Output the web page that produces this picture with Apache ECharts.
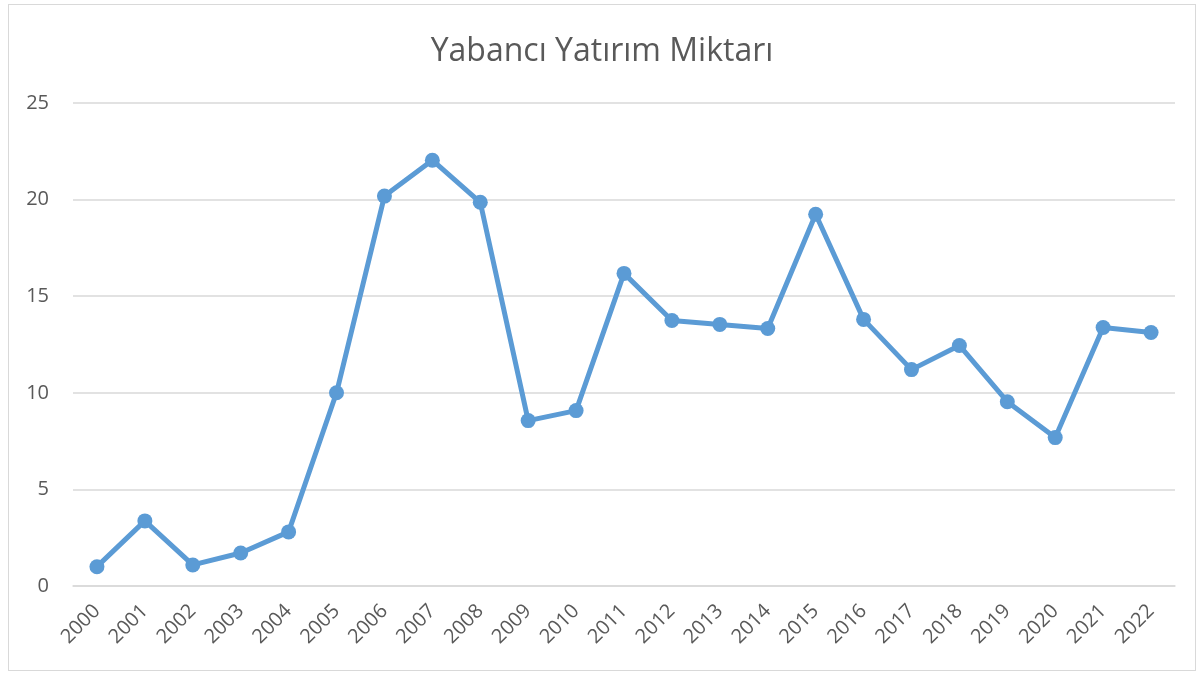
<!DOCTYPE html>
<html lang="tr">
<head>
<meta charset="UTF-8">
<title>Yabancı Yatırım Miktarı</title>
<script src="https://cdn.jsdelivr.net/npm/echarts@6/dist/echarts.min.js"></script>
<style>
  body { margin: 0; background: #fff; }
  #chart { position: absolute; left: 8px; top: 4px; width: 1186px; height: 665px; border: 1px solid #d9d9d9; }
</style>
</head>
<body>
<div id="chart"></div>
<script type="text/javascript">
    var years = ["2000","2001","2002","2003","2004","2005","2006","2007","2008","2009","2010","2011",
                 "2012","2013","2014","2015","2016","2017","2018","2019","2020","2021","2022"];
    var amounts = [1.0, 3.37, 1.09, 1.71, 2.8, 10.0, 20.18, 22.04, 19.86, 8.56, 9.08, 16.18,
                   13.74, 13.54, 13.33, 19.24, 13.8, 11.2, 12.45, 9.54, 7.68, 13.38, 13.12];

    var myChart = echarts.init(document.getElementById('chart'));
    var txt = '#595959';
    myChart.setOption({
        backgroundColor: '#fff',
        title: {
            text: 'Yabancı Yatırım Miktarı',
            left: 'center',
            top: 26,
            textStyle: { color: txt, fontSize: 32, fontWeight: 'normal', fontFamily: 'Open Sans' }
        },
        grid: { left: 64, right: 20, top: 98, bottom: 84 },
        xAxis: {
            type: 'category',
            data: years,
            boundaryGap: true,
            axisLine: { lineStyle: { color: '#d9d9d9', width: 1.5 } },
            axisTick: { show: false },
            axisLabel: { rotate: 45, color: txt, fontSize: 20, fontFamily: 'Open Sans', margin: 22, interval: 0 }
        },
        yAxis: {
            type: 'value',
            min: 0, max: 25, interval: 5,
            axisLine: { show: false },
            axisTick: { show: false },
            axisLabel: { color: txt, fontSize: 20, fontFamily: 'Open Sans', margin: 24 },
            splitLine: { lineStyle: { color: '#d9d9d9', width: 1.5 } }
        },
        series: [{
            name: 'Yabancı Yatırım',
            type: 'line',
            data: amounts,
            symbol: 'circle',
            symbolSize: 15,
            lineStyle: { color: '#5b9bd5', width: 5 },
            itemStyle: { color: '#5b9bd5' },
            animation: false
        }]
    });
</script>
</body>
</html>
